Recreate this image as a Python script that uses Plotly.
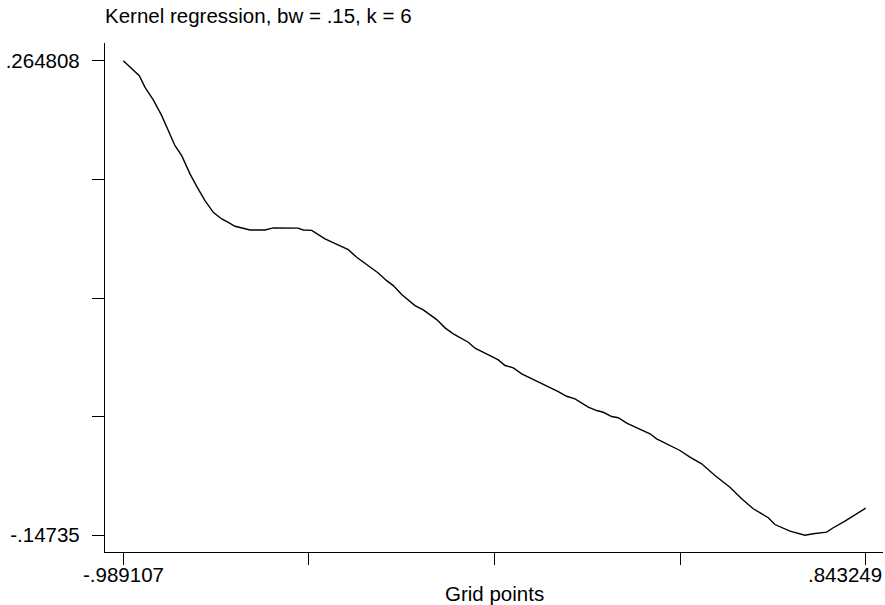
import numpy as np
import plotly.graph_objects as go

# Grid points (x) and kernel-regression estimate (y)
grid_x = [-0.989107, -0.9496, -0.9355, -0.9151, -0.8943, -0.8756, -0.8615, -0.8450,
          -0.8245, -0.8065, -0.7875, -0.7670, -0.7462, -0.7300, -0.7134, -0.6764,
          -0.6394, -0.6189, -0.5777, -0.5579, -0.5449, -0.5241, -0.4913, -0.4338,
          -0.4131, -0.3598, -0.3390, -0.3227, -0.3020, -0.2692, -0.2486, -0.2156,
          -0.1951, -0.1746, -0.1376, -0.1211, -0.0840, -0.0635, -0.0470, -0.0265,
          -0.0058, 0.0147, 0.0312, 0.0845, 0.1052, 0.1257, 0.1585, 0.1793,
          0.1955, 0.2163, 0.2326, 0.2533, 0.3108, 0.3273, 0.3848, 0.4095,
          0.4384, 0.4712, 0.5082, 0.5371, 0.5657, 0.6028, 0.6193, 0.6563,
          0.6933, 0.7138, 0.7469, 0.7632, 0.7920, 0.843249]
fit_y = [0.264808, 0.2518, 0.2416, 0.2307, 0.2171, 0.2026, 0.1910, 0.1824,
         0.1665, 0.1548, 0.1433, 0.1331, 0.1274, 0.1244, 0.1210, 0.1178,
         0.1178, 0.1196, 0.1194, 0.1194, 0.1178, 0.1175, 0.1100, 0.1007,
         0.0941, 0.0805, 0.0738, 0.0695, 0.0617, 0.0521, 0.0484, 0.0400,
         0.0328, 0.0276, 0.0203, 0.0151, 0.0087, 0.0050, 0.0001, -0.0019,
         -0.0071, -0.0106, -0.0130, -0.0225, -0.0266, -0.0288, -0.0361, -0.0390,
         -0.0405, -0.0442, -0.0453, -0.0500, -0.0592, -0.0636, -0.0737, -0.0795,
         -0.0853, -0.0954, -0.1056, -0.1156, -0.1243, -0.1321, -0.1380, -0.1438,
         -0.14735, -0.1460, -0.1446, -0.1408, -0.1351, -0.1238]

# Axis end values shown as labels
x_label_vals = [-0.989107, 0.843249]
x_label_text = ["-.989107", ".843249"]
y_label_vals = [-0.14735, 0.264808]
y_label_text = ["-.14735", ".264808"]

title_text = "Kernel regression, bw = .15, k = 6"
x_title = "Grid points"

FONT = "Liberation Sans, Arial, Helvetica, sans-serif"
FS = 20.5

x_ticks = list(np.linspace(x_label_vals[0], x_label_vals[1], 5))
y_ticks = list(np.linspace(y_label_vals[0], y_label_vals[1], 5))
y_ticktext = [y_label_text[0], "", "", "", y_label_text[1]]

fig = go.Figure()
fig.add_trace(go.Scatter(x=grid_x, y=fit_y, mode="lines",
                         line=dict(color="black", width=1.4),
                         hoverinfo="skip", showlegend=False))

fig.update_layout(
    width=885, height=605,
    margin=dict(l=105, r=2, t=43, b=53, pad=0),
    paper_bgcolor="white", plot_bgcolor="white",
    font=dict(family=FONT, size=FS, color="black"),
    showlegend=False,
)
fig.update_xaxes(
    range=[-1.034274, 0.885948],
    showline=True, linecolor="black", linewidth=1.3,
    showgrid=False, zeroline=False,
    ticks="outside", ticklen=12, tickwidth=1.3, tickcolor="black",
    tickvals=x_ticks, showticklabels=False,
)
fig.update_yaxes(
    range=[-0.161862, 0.280189],
    showline=True, linecolor="black", linewidth=1.3,
    showgrid=False, zeroline=False,
    ticks="outside", ticklen=12, tickwidth=1.3, tickcolor="black",
    tickvals=y_ticks, ticktext=y_ticktext,
    tickfont=dict(family=FONT, size=FS, color="black"),
    ticklabelstandoff=8,
)

# x-axis end labels
fig.add_annotation(x=x_label_vals[0], y=0, xref="x", yref="paper",
                   text=x_label_text[0], showarrow=False,
                   xanchor="center", yanchor="middle", yshift=-22,
                   font=dict(family=FONT, size=FS, color="black"))
fig.add_annotation(x=x_label_vals[1], y=0, xref="x", yref="paper",
                   text=x_label_text[1], showarrow=False,
                   xanchor="right", yanchor="middle", yshift=-22, xshift=18,
                   font=dict(family=FONT, size=FS, color="black"))
# x-axis title
fig.add_annotation(x=0.5, y=0, xref="paper", yref="paper",
                   text=x_title, showarrow=False,
                   xanchor="center", yanchor="middle", yshift=-41,
                   font=dict(family=FONT, size=FS, color="black"))
# chart title
fig.add_annotation(x=0, y=1, xref="paper", yref="paper",
                   text=title_text, showarrow=False,
                   xanchor="left", yanchor="middle", yshift=28, xshift=-2,
                   font=dict(family=FONT, size=FS, color="black"))

fig.write_html("out.html",
               config={"displayModeBar": False},
               post_script="document.body.style.margin='0';document.body.style.overflow='hidden';")
